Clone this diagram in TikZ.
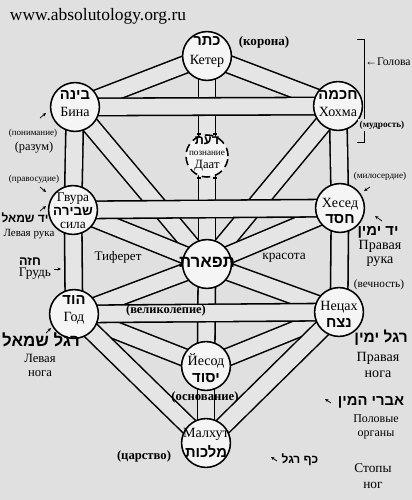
\documentclass[tikz,border=0pt]{standalone}
\usepackage{fontspec}
\setmainfont{Liberation Serif}
\newfontfamily\hebfont[Script=Hebrew]{Liberation Sans}
\TeXXeTstate=1
\usetikzlibrary{arrows.meta}
\newcommand{\heb}[2][11]{{\fontsize{#1}{#1}\selectfont\hebfont\bfseries\beginR #2\endR}}
\newcommand{\fs}[1]{\fontsize{#1}{#1}\selectfont}
\definecolor{paper}{gray}{0.88}
\definecolor{tubecol}{gray}{0.9}
\definecolor{disc}{gray}{0.96}
\pgfdeclarelayer{paper}
\pgfdeclarelayer{links}
\pgfsetlayers{paper,links,main}

\begin{document}
\begin{tikzpicture}[x=0.025cm,y=-0.025cm,
    sefira/.style={circle, draw, line width=1.1pt, fill=disc, minimum size=1.22cm, inner sep=0pt},
    chan/.style={draw=black, line width=1.1pt, double=tubecol, double distance=11.3pt},
    txt/.style={inner sep=0pt, align=center},
    pointer/.style={-{Stealth[length=2.5pt,width=2.2pt]}, line width=0.5pt}]

        \useasboundingbox (0,0) rectangle (412,500);
        \begin{pgfonlayer}{paper}
        \fill[paper] (0,0) rectangle (412,500);
        \end{pgfonlayer}

        % the ten sefirot and daat
        \node[sefira] (keter)   at (207, 56)  {};
        \node[sefira] (binah)   at (75, 107)  {};
        \node[sefira] (hokhma)  at (338, 106) {};
        \node[sefira, minimum size=1.05cm, dash pattern=on 6pt off 3.5pt] (daat) at (207, 156) {};
        \node[sefira] (gevura)  at (73, 210)  {};
        \node[sefira] (hesed)   at (340, 208) {};
        \node[sefira] (tiferet) at (207, 264) {};
        \node[sefira] (hod)     at (74, 314)  {};
        \node[sefira] (netzah)  at (339, 312) {};
        \node[sefira] (yesod)   at (206, 366) {};
        \node[sefira] (malkhut) at (206, 443) {};

        \begin{pgfonlayer}{links}
        \path[every edge/.style=chan]
        (keter.center) edge (binah.center)
        (keter.center) edge (hokhma.center)
        (keter.center) edge (daat.center)
        (daat.center) edge (tiferet.center)
        (tiferet.center) edge (yesod.center)
        (yesod.center) edge (malkhut.center)
        (binah.center) edge (gevura.center)
        (gevura.center) edge (hod.center)
        (hokhma.center) edge (hesed.center)
        (hesed.center) edge (netzah.center)
        (binah.center) edge (tiferet.center)
        (hokhma.center) edge (tiferet.center)
        (gevura.center) edge (tiferet.center)
        (hesed.center) edge (tiferet.center)
        (hod.center) edge (tiferet.center)
        (netzah.center) edge (tiferet.center)
        (hod.center) edge (yesod.center)
        (netzah.center) edge (yesod.center)
        (hod.center) edge (malkhut.center)
        (netzah.center) edge (malkhut.center)
        ;
        % the three crossings lie over the rest
        \path[every edge/.style=chan]
        (binah.center) edge (hokhma.center)
        (gevura.center) edge (hesed.center)
        (hod.center) edge (netzah.center)
        ;
        \end{pgfonlayer}

        % hooks where the middle tube meets daat
        \draw[line width=1.1pt] (197,134) -- (201,134) (217,134) -- (213,134);
        \draw[line width=1.1pt] (197,178) -- (201,178) (217,178) -- (213,178);

        % names inside the circles
        \node[txt, font=\fs{10}] (keter-name)   at (207, 52)  {\heb[10.5]{כתר}\\[3pt]Кетер};
        \node[txt, font=\fs{10}] (binah-name)   at (75, 104)  {\heb[10.5]{בינה}\\[2pt]Бина};
        \node[txt, font=\fs{10}] (hokhma-name)  at (338, 104) {\heb[10.5]{חכמה}\\[2pt]Хохма};
        \node[txt, font=\fs{9}]  (daat-name)    at (207, 154) {\heb[9]{דעת}\\[-1pt]{\fs{6.5}познание}\\Даат};
        \node[txt, font=\fs{9.5}] (gevura-name) at (73, 211)  {Гвура\\\heb[9.5]{שבירה}\\сила};
        \node[txt, font=\fs{10}] (hesed-name)   at (340, 211) {Хесед\\[2pt]\heb[10.5]{חסד}};
        \node[txt] (tiferet-name) at (207, 262) {\heb[12]{תפארת}};
        \node[txt, font=\fs{10}] (hod-name)     at (74, 310)  {\heb[10.5]{הוד}\\[2pt]Год};
        \node[txt, font=\fs{10}] (netzah-name)  at (339, 314) {Нецах\\[2pt]\heb[10.5]{נצח}};
        \node[txt, font=\fs{10}] (yesod-name)   at (206, 368) {Йесод\\[2pt]\heb[10.5]{יסוד}};
        \node[txt, font=\fs{10}] (malkhut-name) at (206, 443) {Малхут\\[2pt]\heb[10.5]{מלכות}};

        % labels round the tree
        \node[txt, font=\fs{12.4}] (site) at (98, 16) {www.absolutology.org.ru};
        \node[txt, font=\bfseries\fs{9.3}] (korona) at (264, 42) {(корона)};
        \node[txt, font=\fs{8.3}] (golova) at (388, 62) {←Голова};
        \draw[line width=0.6pt] (357,39) -- (364,39) -- (364,142) -- (357,142);
        \node[txt, font=\bfseries\fs{6.6}, fill=paper, inner sep=1pt] (mudrost) at (382, 125) {(мудрость)};
        \node[txt, font=\fs{6.4}] (ponimanie) at (33, 133) {(понимание)};
        \node[txt, font=\fs{8.8}] (razum) at (34, 148) {(разум)};
        \node[txt, font=\fs{6.5}] (pravosudie) at (34, 179) {(правосудие)};
        \node[txt] (yad-smol) at (25, 218) {\heb[8.5]{יד שמאל}};
        \node[txt, font=\fs{7.8}] (levaya-ruka) at (29, 234) {Левая рука};
        \node[txt] (haze) at (30, 262) {\heb[9]{חזה}};
        \node[txt, font=\fs{9.5}] (grud) at (35, 274) {Грудь};
        \node[txt, font=\fs{9.3}] (tiferet-ru) at (118, 257) {Тиферет};
        \node[txt, font=\fs{9.5}] (krasota) at (284, 258) {красота};
        \node[txt, font=\bfseries\fs{8.8}] (velikolepie) at (166, 311) {(великолепие)};
        \node[txt] (regel-smol) at (41, 340) {\heb[12]{רגל שמאל}};
        \node[txt, font=\fs{9}] (levaya-noga) at (40, 365) {Левая\\[1pt]нога};
        \node[txt, font=\bfseries\fs{9}] (osnovanie) at (205, 397) {(основание)};
        \node[txt, font=\bfseries\fs{9}] (tsarstvo) at (144, 456) {(царство)};
        \node[txt, font=\fs{6.5}] (miloserdie) at (380, 176) {(милосердие)};
        \node[txt] (yad-yamin) at (378, 232) {\heb[10.5]{יד ימין}};
        \node[txt, font=\fs{10}] (pravaya-ruka) at (380, 253) {Правая\\рука};
        \node[txt, font=\fs{8}] (vechnost) at (379, 285) {(вечность)};
        \node[txt] (regel-yamin) at (381, 338) {\heb[11]{רגל ימין}};
        \node[txt, font=\fs{10}] (pravaya-noga) at (378, 365) {Правая\\[1pt]нога};
        \node[txt] (evrei) at (371, 402) {\heb[10.5]{אברי המין}};
        \node[txt, font=\fs{8.5}] (polovye) at (376, 427) {Половые\\[1pt]органы};
        \node[txt] (kaf-regel) at (300, 460) {\heb[8.5]{כף רגל}};
        \node[txt, font=\fs{9.5}] (stopy) at (373, 476) {Стопы\\[2pt]ног};

        % little pointers
        \draw[pointer] (40,118) -- (46,113);
        \draw[pointer] (40,187) -- (46,192);
        \draw[pointer] (40,211) -- (46,206);
        \draw[pointer] (54,269) -- (61,269);
        \draw[pointer] (46,333) -- (51,328);
        \draw[pointer] (370,187) -- (364,191);
        \draw[pointer] (382,221) -- (375,216);
        \draw[pointer] (331,403) -- (325,399);
        \draw[pointer] (277,461) -- (271,457);

    \end{tikzpicture}
\end{document}
